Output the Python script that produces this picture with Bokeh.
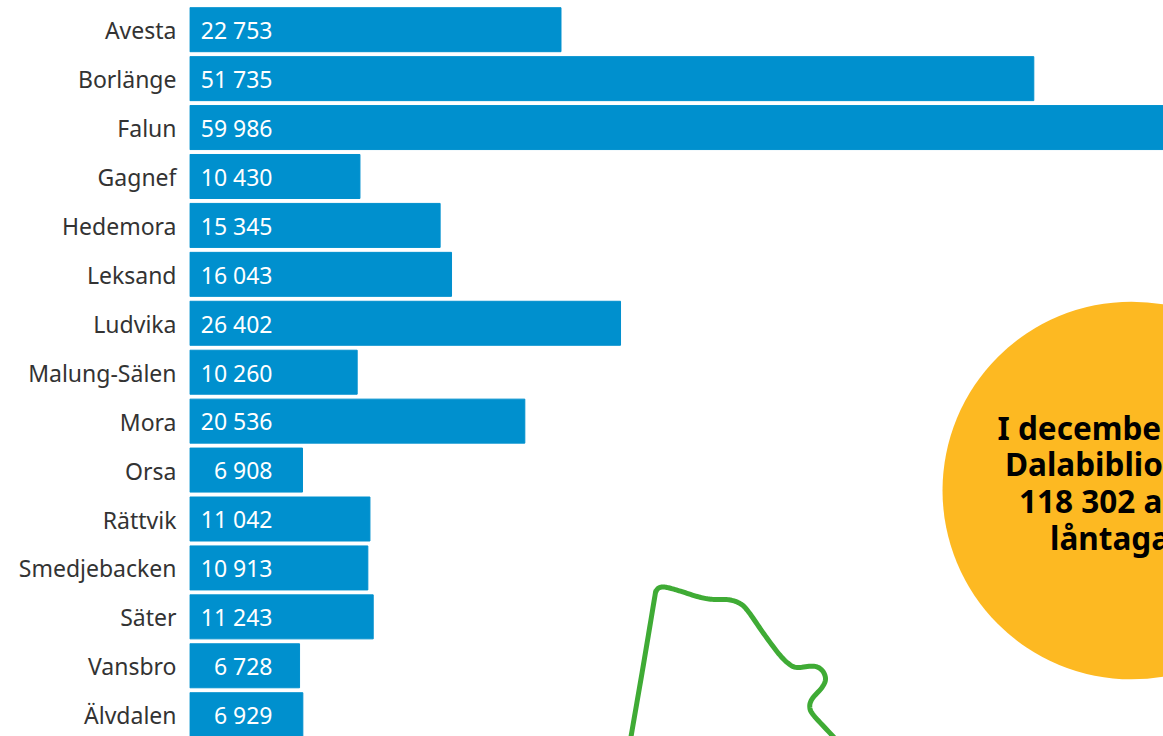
from bokeh.embed import file_html
from bokeh.models import FixedTicker, Range1d
from bokeh.plotting import figure
from bokeh.resources import INLINE
from bokeh.core.properties import value

# Borrowers per municipality
municipalities = ["Avesta", "Borlänge", "Falun", "Gagnef", "Hedemora", "Leksand", "Ludvika",
                  "Malung-Sälen", "Mora", "Orsa", "Rättvik", "Smedjebacken", "Säter",
                  "Vansbro", "Älvdalen"]
borrowers = [22753, 51735, 59986, 10430, 15345, 16043, 26402, 10260, 20536, 6908, 11042,
             10913, 11243, 6728, 6929]

# Callout text and the county outline, in canvas pixels
callout_lines = ["I decembe", "Dalabiblio", "118 302 a", "låntaga"]
callout_left = [997, 1004.5, 1018.5, 1049.5]
callout_baseline = [427, 463, 500, 537]
outline_x = [626.5, 630.7, 642.8, 654, 655.3, 657.8, 662, 668, 680, 696.7, 710, 728.3, 740, 748.3,
             763.3, 778.3, 788.3, 796.7, 813.3, 821.7, 825, 821.7, 811.7, 809.3, 813.3, 831.7, 845]
outline_y = [760, 735, 665, 598, 591.5, 587.8, 586.5, 587.3, 590.7, 596, 598.7, 599.3, 603.3, 611.7,
             633.3, 653.3, 663.3, 667, 665.7, 670, 678.3, 686.7, 698.3, 706.7, 715, 735, 750]


def smooth(xs, ys, steps=10):
    """Catmull-Rom spline through the outline's control points."""
    out_x, out_y = [], []
    n = len(xs)
    for i in range(n - 1):
        p0, p3 = max(i - 1, 0), min(i + 2, n - 1)
        for k in range(steps):
            t = k / steps
            for src, out in ((xs, out_x), (ys, out_y)):
                a, b, c, d = src[p0], src[i], src[i + 1], src[p3]
                out.append(0.5 * (2 * b + (c - a) * t + (2 * a - 5 * b + 4 * c - d) * t ** 2
                                  + (3 * b - a - 3 * c + d) * t ** 3))
    out_x.append(xs[-1])
    out_y.append(ys[-1])
    return out_x, out_y


PX_PER_UNIT = 844 / 51735
ROW = 48.93
FONT = "Noto Sans"

p = figure(width=1163, height=736, output_backend="svg", toolbar_location=None,
           x_range=Range1d(-0.3 / PX_PER_UNIT, 973.7 / PX_PER_UNIT),
           y_range=Range1d((736 - 29.2) / ROW, -29.2 / ROW),
           x_axis_location=None, min_border_left=189, min_border_right=0,
           min_border_top=0, min_border_bottom=0, outline_line_color=None)
p.grid.visible = False
p.extra_x_ranges["canvas_x"] = Range1d(189, 1163)
p.extra_y_ranges["canvas_y"] = Range1d(736, 0)

rows = list(range(len(municipalities)))
# Labels sit a touch below their bars' centres
label_ticks = [r + 0.011 for r in rows]
p.yaxis.ticker = FixedTicker(ticks=label_ticks)
p.yaxis.major_label_overrides = dict(zip(label_ticks, municipalities))
p.yaxis.axis_line_color = None
p.yaxis.major_tick_line_color = None
p.yaxis.minor_tick_line_color = None
p.yaxis.major_tick_out = 0
p.yaxis.major_tick_in = 0
p.yaxis.major_label_standoff = 13
p.yaxis.major_label_text_font = FONT
p.yaxis.major_label_text_font_size = "23px"
p.yaxis.major_label_text_color = "#333333"

p.hbar(y=rows, left=0, right=borrowers, height=44 / ROW, color="#0090CE")

labels = [f"{v:,}".replace(",", " ") for v in borrowers]
p.text(x=[0] * len(rows), y=rows, text=labels, x_offset=82.7, y_offset=0.3, text_align="right",
       text_baseline="middle", text_color="white", text_font=value(FONT), text_font_size="23px")

p.line(*smooth(outline_x, outline_y), x_range_name="canvas_x", y_range_name="canvas_y",
       line_color="#3FAB35", line_width=5, line_join="round")

p.circle(x=[1131], y=[490], radius=189, x_range_name="canvas_x", y_range_name="canvas_y",
         fill_color="#FDB922", line_color=None)
p.text(x=callout_left, y=callout_baseline, text=callout_lines, x_range_name="canvas_x",
       y_range_name="canvas_y", text_align="left", text_baseline="alphabetic", text_color="black",
       text_font=value(FONT), text_font_style="bold", text_font_size="31.5px")

open("out.html", "w").write(file_html(p, INLINE))
